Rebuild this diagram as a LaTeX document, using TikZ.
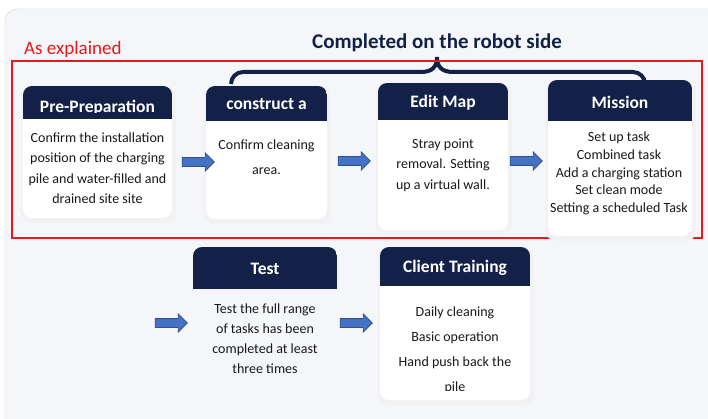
\documentclass[tikz,border=0pt]{standalone}
\usepackage{fontspec}
\setmainfont{Carlito}
\usetikzlibrary{shapes.arrows}
\definecolor{navy}{RGB}{19,33,73}
\definecolor{bgc}{RGB}{244,246,249}
\definecolor{arrowfill}{RGB}{68,114,196}
\definecolor{arrowline}{RGB}{47,82,143}
\definecolor{markred}{RGB}{226,28,28}
% card: body corner (x1,y1) to (x2,y2), header ends at #5
\def\cardback(#1,#2)(#3,#4)#5{%
  \fill[black!5, rounded corners=10] (#1-2,#2+1) rectangle (#3+4,#4+5);
  \begin{scope}
    \clip[rounded corners=9] (#1,#2) rectangle (#3,#4);
    \fill[white] (#1,#2) rectangle (#3,#4);
    \fill[navy] (#1,#2) rectangle (#3,#5);
  \end{scope}}

\begin{document}
\begin{tikzpicture}[x=1pt, y=-1pt,
    title/.style={font=\fontsize{17.5}{20}\selectfont\bfseries, text=white, inner sep=0},
    body/.style={align=center, inner sep=0, text=black!90},
    blockarrow/.style={single arrow, fill=arrowfill, draw=arrowline, line width=0.8,
      minimum height=32, inner xsep=0, inner ysep=4, single arrow head extend=4.5,
      single arrow head indent=0},
    brace/.style={navy, line width=4}]
		%%%%% START %%%%%
		\useasboundingbox (0,0) rectangle (708,419);
		\fill[white] (0,0) rectangle (708,419);
		\filldraw[fill=bgc, draw=black!18, rounded corners=12] (5,9) rectangle (740,450);
		
		\node[text=markred, font=\fontsize{19}{22}\selectfont, anchor=base west, inner sep=0] (explained) at (24,55) {As explained};
		\node[text=navy, font=\fontsize{21}{24}\selectfont\bfseries, anchor=base, inner sep=0] (robotside) at (437,49) {Completed on the robot side};
		
		\draw[brace, rounded corners=12] (231,84) |- (422,72);
		\draw[brace] (421,72) .. controls (433,72) and (437,66) .. (437,57) .. controls (437,66) and (441,72) .. (453,72);
		\draw[brace, rounded corners=12] (452,72) -| (645,82);
		
		\draw[markred, line width=1.3] (12,61) rectangle (702,238);
		
		% top row
		\cardback(23,86)(172,218){119}
		\begin{scope}
			\clip (23,86) rectangle (172,113);
			\node[title, anchor=base] (prephead) at (97.5,113) {Pre-Preparation};
		\end{scope}
		\node[body, font=\fontsize{14}{20.5}\selectfont] (prep) at (97.5,168) {Confirm the installation\\position of the charging\\pile and water-filled and\\drained site site};
		
		\cardback(206,86)(327,219){121}
		\node[title] (buildhead) at (266.5,104) {construct a};
		\node[body, font=\fontsize{14}{25}\selectfont] (build) at (266.5,157.5) {Confirm cleaning\\area.};
		
		\cardback(378,83)(508,230){120}
		\node[title] (edithead) at (443,103) {Edit Map};
		\node[body, font=\fontsize{14}{20.5}\selectfont] (edit) at (443,165) {Stray point\\removal. Setting\\up a virtual wall.};
		
		\cardback(548,80)(692,236){121}
		\node[title] (missionhead) at (620,102) {Mission};
		\node[body, font=\fontsize{14}{17.7}\selectfont] (mission) at (619,173.5) {Set up task\\Combined task\\Add a charging station\\Set clean mode\\Setting a scheduled Task};
		
		% bottom row
		\begin{scope}
			\clip[rounded corners=9] (193,247) rectangle (337,320);
			\fill[navy] (193,247) rectangle (337,289);
		\end{scope}
		\node[title] (testhead) at (265,269) {Test};
		\node[body, font=\fontsize{14}{20}\selectfont] (test) at (265,339) {Test the full range\\of tasks has been\\completed at least\\three times};
		
		\cardback(380,247)(530,400){286}
		\node[title] (trainhead) at (455,268) {Client Training};
		\begin{scope}
			\clip (380,290) rectangle (530,390.5);
			\node[body, font=\fontsize{14}{25}\selectfont] (train) at (455,350.5) {Daily cleaning\\Basic operation\\Hand push back the\\pile};
		\end{scope}
		
		% arrows
		\node[blockarrow] (step1) at (196,162) {};
		\node[blockarrow] (step2) at (352,161) {};
		\node[blockarrow] (step3) at (524,161) {};
		\node[blockarrow] (step4) at (169,323) {};
		\node[blockarrow] (step5) at (354,323) {};
		%%%%% END %%%%%
\end{tikzpicture}
\end{document}
